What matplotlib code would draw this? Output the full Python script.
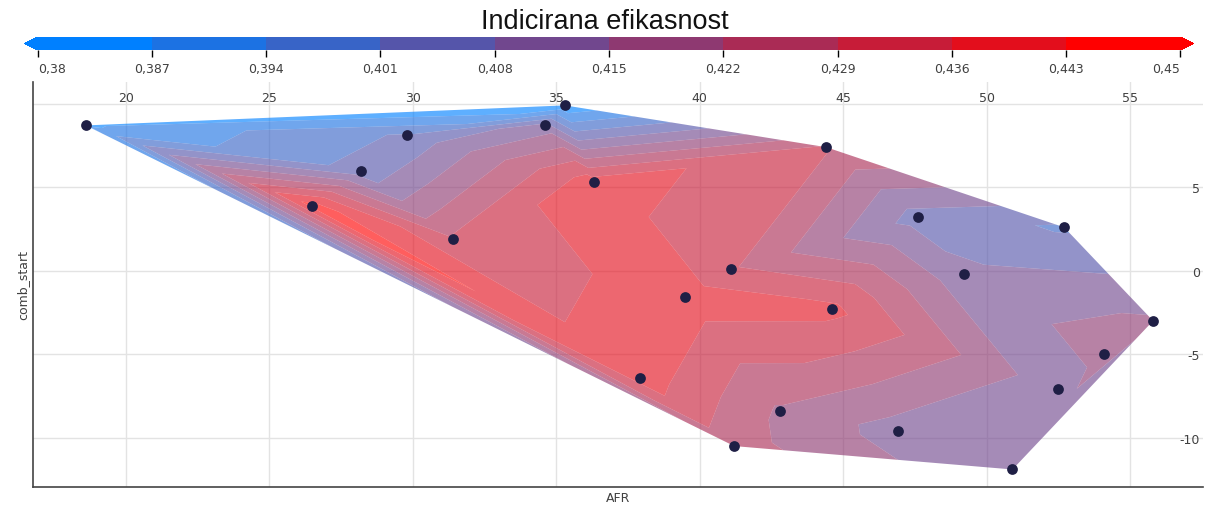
import numpy as np
import matplotlib
matplotlib.use("Agg")
import matplotlib.pyplot as plt
from matplotlib.colors import LinearSegmentedColormap, ListedColormap, BoundaryNorm

# AFR, comb_start and indicated efficiency
afr = [18.6, 35.3, 34.6, 29.8, 28.2, 26.5, 31.4, 36.3, 44.4, 47.6, 52.7, 49.2,
       41.1, 39.5, 44.6, 55.8, 54.1, 52.5, 37.9, 42.8, 46.9, 41.2, 50.9]
comb_start = [8.7, 9.9, 8.7, 8.1, 6.0, 3.9, 1.9, 5.3, 7.4, 3.2, 2.6, -0.2,
              0.1, -1.6, -2.3, -3.0, -5.0, -7.1, -6.4, -8.4, -9.6, -10.5, -11.9]
efikasnost = [0.386, 0.381, 0.411, 0.402, 0.403, 0.446, 0.430, 0.440, 0.430, 0.405, 0.400, 0.410,
              0.430, 0.440, 0.438, 0.416, 0.418, 0.410, 0.440, 0.421, 0.412, 0.425, 0.408]

levels = np.round(np.linspace(0.38, 0.45, 11), 3)
x_ticks = [20, 25, 30, 35, 40, 45, 50, 55]
y_ticks = [-10, -5, 0, 5, 10]
y_labels = ['-10', '-5', '0', '5', '']

base = LinearSegmentedColormap.from_list('br', ['#0080ff', '#ff0000'])
cmap = ListedColormap([base(i / 9) for i in range(10)])
cmap.set_under('#0080ff')
cmap.set_over('#ff0000')
norm = BoundaryNorm(levels, cmap.N)

fig = plt.figure(figsize=(12.1, 5.1), dpi=100)
ax = fig.add_axes([33 / 1210, 22 / 510, 1170 / 1210, 405 / 510])

ax.grid(True, color='#e3e3e3', linewidth=1)
ax.set_axisbelow(True)
cs = ax.tricontourf(afr, comb_start, efikasnost, levels=levels, cmap=cmap, norm=norm,
                    alpha=0.63, extend='both', antialiased=True)
ax.scatter(afr, comb_start, s=60, color='#1f1f45', zorder=5, linewidths=0)

ax.set_xlim(16.76, 57.54)
ax.set_ylim(-12.95, 11.3)
ax.set_xticks(x_ticks)
ax.set_yticks(y_ticks)
ax.set_yticklabels(y_labels)
ax.tick_params(axis='x', top=True, labeltop=True, bottom=False, labelbottom=False,
               length=0, pad=-16, labelsize=9, labelcolor='#404040')
ax.tick_params(axis='y', left=False, labelleft=False, right=False, labelright=True,
               length=0, pad=-2, labelsize=9, labelcolor='#404040')
for lab in ax.get_yticklabels():
    lab.set_horizontalalignment('right')

for s in ['top', 'right']:
    ax.spines[s].set_visible(False)
for s in ['left', 'bottom']:
    ax.spines[s].set_color('#444444')
    ax.spines[s].set_linewidth(1.2)

ax.set_xlabel('AFR', fontsize=9, color='#404040', labelpad=3)
ax.set_ylabel('comb_start', fontsize=9, color='#404040', labelpad=3)

cax = fig.add_axes([24 / 1210, 1 - 51 / 510, 1170 / 1210, 13 / 510])
sm = matplotlib.cm.ScalarMappable(cmap=cmap, norm=norm)
cb = fig.colorbar(sm, cax=cax, orientation='horizontal', extend='both', extendfrac=0.012,
                  ticks=levels, drawedges=False)
cb.outline.set_visible(False)
cb.set_ticklabels([('%g' % v).replace('.', ',') for v in levels])
cax.tick_params(length=5, width=1, labelsize=9, labelcolor='#404040', pad=4)
for i, t in enumerate(cax.xaxis.get_major_ticks()):
    t.tick1line.set_color(base(min(i, 9) / 9))
tl = cax.get_xticklabels()
tl[0].set_horizontalalignment('left')
tl[-1].set_horizontalalignment('right')

fig.text(0.5, 1 - 22 / 510, 'Indicirana efikasnost', ha='center', va='center',
         fontsize=19.5, family='Liberation Sans', color='#111111')

fig.savefig('out.png', dpi=100)
